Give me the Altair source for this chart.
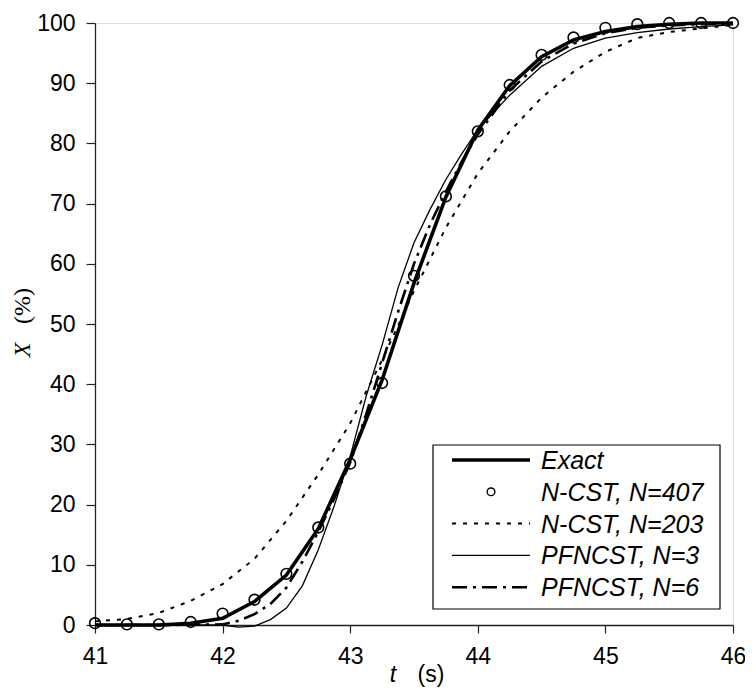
import altair as alt
import pandas as pd

# ---------------- data ----------------
t_q = [41.0, 41.25, 41.5, 41.75, 42.0, 42.25, 42.5, 42.75, 43.0, 43.25, 43.5,
       43.75, 44.0, 44.25, 44.5, 44.75, 45.0, 45.25, 45.5, 45.75, 46.0]

exact = [0.0, 0.0, 0.0, 0.3, 1.1, 3.9, 8.3, 16.0, 27.5, 40.7, 56.8,
         71.1, 82.2, 89.6, 94.4, 97.2, 98.6, 99.4, 99.8, 100.0, 100.0]

ncst_407 = [0.3, 0.1, 0.1, 0.5, 1.9, 4.2, 8.5, 16.2, 26.8, 40.2, 58.0,
            71.2, 82.0, 89.7, 94.7, 97.6, 99.2, 99.8, 100.0, 100.0, 100.0]

ncst_203 = [0.6, 1.0, 2.0, 4.0, 6.8, 11.0, 17.3, 25.0, 33.5, 44.0, 55.5,
            66.0, 75.0, 82.0, 87.6, 91.9, 95.2, 97.5, 98.5, 99.1, 99.7]

t_f = [41.0, 41.5, 42.0, 42.125, 42.25, 42.375, 42.5, 42.625, 42.75, 42.875,
       43.0, 43.125, 43.25, 43.375, 43.5, 43.625, 43.75, 43.875, 44.0, 44.25,
       44.5, 44.75, 45.0, 45.25, 45.5, 45.75, 46.0]

pfncst_3 = [0.0, 0.0, 0.0, -0.35, -0.2, 0.9, 2.8, 6.5, 12.5, 19.8,
            28.0, 38.0, 46.5, 56.0, 63.5, 69.0, 74.0, 78.3, 82.3, 88.0,
            92.8, 95.8, 97.5, 98.4, 99.0, 99.4, 99.7]

pfncst_6 = [0.0, 0.0, 0.1, 0.7, 1.8, 3.5, 6.2, 10.5, 15.5, 21.0,
            27.0, 35.0, 43.5, 52.0, 60.0, 66.5, 72.0, 77.0, 81.5, 88.8,
            93.6, 96.6, 98.3, 99.2, 99.6, 99.8, 99.9]

legend_labels = ["Exact", "N-CST, N=407", "N-CST, N=203", "PFNCST, N=3", "PFNCST, N=6"]
x_ticks = [41, 42, 43, 44, 45, 46]
y_ticks = [0, 10, 20, 30, 40, 50, 60, 70, 80, 90, 100]

# ---------------- styles ----------------
SANS = "Liberation Sans"
SERIF = "Liberation Serif"
FS = 23

W, H = 638, 602
PAD_L, PAD_T, PAD_R, PAD_B = 87, 15, 12, 64
DX = 96 - 8 - PAD_L  # shift of fixed-position annotations relative to the reference

xs = alt.Scale(domain=[41, 46], nice=False, zero=False)
ys = alt.Scale(domain=[0, 100], nice=False, zero=False)

x_axis = alt.Axis(values=x_ticks, title=None, grid=False, tickSize=8, labelPadding=12,
                  labelFontSize=FS, labelFont=SANS, labelColor="black",
                  domainColor="#222", tickColor="#222", domainWidth=1.3, tickWidth=1.2,
                  labelFlush=False)
y_axis = alt.Axis(values=y_ticks, title=None, grid=False, tickSize=9, labelPadding=11,
                  labelFontSize=FS, labelFont=SANS, labelColor="black",
                  domainColor="#222", tickColor="#222", domainWidth=1.3, tickWidth=1.2,
                  labelFlush=False)


def df_of(ts, vs):
    return pd.DataFrame({"t": ts, "X": vs})


def enc():
    return dict(x=alt.X("t:Q", scale=xs, axis=x_axis),
                y=alt.Y("X:Q", scale=ys, axis=y_axis))


l_203 = alt.Chart(df_of(t_q, ncst_203)).mark_line(
    color="black", strokeWidth=2, strokeDash=[4, 7]).encode(**enc())
l_3 = alt.Chart(df_of(t_f, pfncst_3)).mark_line(
    color="black", strokeWidth=1.3).encode(**enc())
l_6 = alt.Chart(df_of(t_f, pfncst_6)).mark_line(
    color="black", strokeWidth=2.6, strokeDash=[15, 6, 3, 6]).encode(**enc())
l_ex = alt.Chart(df_of(t_q, exact)).mark_line(
    color="black", strokeWidth=3.6).encode(**enc())
p_407 = alt.Chart(df_of(t_q, ncst_407)).mark_point(
    shape="circle", filled=False, color="black", size=115, strokeWidth=1.6, opacity=1).encode(**enc())

one = pd.DataFrame({"k": [0]})

# ---------------- legend ----------------
box = alt.Chart(one).mark_rect(fill="white", stroke="black", strokeWidth=1.2).encode(
    x=alt.value(337 + DX), x2=alt.value(624 + DX), y=alt.value(422), y2=alt.value(586))

legend_layers = [box]
row_y0, row_dy = 437, 31.8
line_styles = [
    dict(strokeWidth=3.6),
    None,
    dict(strokeWidth=2, strokeDash=[4, 7]),
    dict(strokeWidth=1.3),
    dict(strokeWidth=2.6, strokeDash=[15, 6, 3, 6]),
]
for i, lab in enumerate(legend_labels):
    yy = row_y0 + i * row_dy
    st = line_styles[i]
    if st is None:
        legend_layers.append(
            alt.Chart(one).mark_point(shape="circle", filled=False, color="black",
                                      size=60, strokeWidth=1.4, opacity=1).encode(
                x=alt.value(395 + DX), y=alt.value(yy)))
    else:
        legend_layers.append(
            alt.Chart(one).mark_rule(color="black", **st).encode(
                x=alt.value(356 + DX), x2=alt.value(434 + DX), y=alt.value(yy)))
    legend_layers.append(
        alt.Chart(pd.DataFrame({"s": [lab]})).mark_text(
            font=SANS, fontSize=25, fontStyle="italic", align="left",
            baseline="middle", color="black").encode(
            text="s:N", x=alt.value(445 + DX), y=alt.value(yy + 1)))

# ---------------- axis titles ----------------
t_t = alt.Chart(pd.DataFrame({"s": ["t"]})).mark_text(
    font=SANS, fontSize=FS, fontStyle="italic", align="center", baseline="alphabetic",
    color="black").encode(text="s:N", x=alt.value(297 + DX), y=alt.value(659))
t_s = alt.Chart(pd.DataFrame({"s": ["(s)"]})).mark_text(
    font=SANS, fontSize=FS, align="center", baseline="alphabetic",
    color="black").encode(text="s:N", x=alt.value(335 + DX), y=alt.value(659))
y_X = alt.Chart(pd.DataFrame({"s": ["X"]})).mark_text(
    font=SERIF, fontSize=24, fontStyle="italic", align="center", baseline="middle",
    angle=270, color="black").encode(text="s:N", x=alt.value(-73 + DX), y=alt.value(327))
y_p = alt.Chart(pd.DataFrame({"s": ["(%)"]})).mark_text(
    font=SERIF, fontSize=24, align="center", baseline="middle",
    angle=270, color="black").encode(text="s:N", x=alt.value(-73 + DX), y=alt.value(283))

chart = alt.layer(
    l_203, l_3, l_6, l_ex, p_407, *legend_layers, t_t, t_s, y_X, y_p
).properties(
    width=W, height=H,
    padding={"left": PAD_L, "top": PAD_T, "right": PAD_R, "bottom": PAD_B},
    autosize=alt.AutoSizeParams(type="none"),
).configure_view(
    stroke="#888", strokeWidth=1.3
).configure(background="white")

chart.save("out.html", embed_options={"renderer": "svg", "actions": False})
